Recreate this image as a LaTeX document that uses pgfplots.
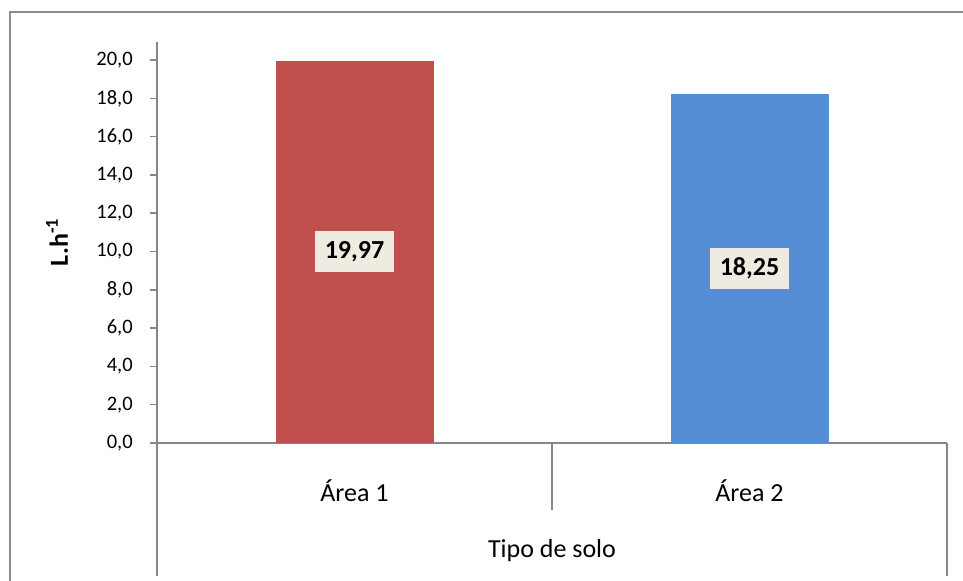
\documentclass[border=0pt]{standalone}
\usepackage{fontspec}
\setmainfont{Carlito}
\usepackage{pgfplots}
\pgfplotsset{compat=1.18}

\definecolor{barred}{HTML}{C0504D}
\definecolor{barblue}{HTML}{558ED5}
\definecolor{labelbox}{HTML}{EEECE1}
\definecolor{axisgray}{HTML}{868686}
\definecolor{framegray}{HTML}{8C8C8C}

\begin{document}
\begin{tikzpicture}
% page area and the chart frame
\useasboundingbox (0pt,0pt) rectangle (722.25pt,-435.75pt);
\begin{scope}
\clip (0pt,0pt) rectangle (722.25pt,-435.75pt);
\draw[framegray, line width=1.3pt] (7.5pt,-460pt) -- (7.5pt,-9pt) -- (740pt,-9pt);
\end{scope}

\begin{axis}[
  at={(117.75pt,-332.25pt)}, anchor=south west,
  scale only axis,
  width=592.5pt, height=300.75pt,
  xmin=-0.5, xmax=1.5,
  ymin=0, ymax=20.94,
  axis lines=left,
  axis line style={-, draw=axisgray, line width=1.1pt},
  clip=false,
  xtick={0,1},
  xticklabels={Área 1, Área 2},
  x tick style={draw=none},
  ytick={0,2,...,20},
  y tick style={draw=axisgray, line width=1.1pt},
  tick align=outside,
  major tick length=5.25pt,
  /pgf/number format/.cd, assume math mode=true, use comma, fixed, fixed zerofill, precision=1,
  /pgfplots/.cd,
  yticklabel style={anchor=east, inner sep=0pt, xshift=-12.75pt,
    font=\fontsize{15.4}{18}\selectfont},
  xticklabel style={anchor=base, yshift=-38.25pt,
    font=\fontsize{19.5}{23}\selectfont},
  xlabel={Tipo de solo},
  xlabel style={at={(axis description cs:0.5,0)}, anchor=base, yshift=-85.5pt,
    font=\fontsize{19.5}{23}\selectfont},
  ylabel={L.h\textsuperscript{-1}},
  ylabel style={at={(axis description cs:-0.1127,0.5)}, anchor=base,
    font=\fontsize{19.5}{23}\selectfont\bfseries},
  ybar, bar width=118.5pt,
  visualization depends on=y \as \rawy,
  nodes near coords={\pgfmathprintnumber[fixed, fixed zerofill, precision=2, use comma]{\pgfplotspointmeta}},
  every node near coord/.append style={
    anchor=center, fill=labelbox, text=black,
    inner xsep=7pt, inner ysep=0pt, minimum height=30.75pt,
    font=\fontsize{19.5}{23}\selectfont\bfseries,
    shift={(axis direction cs:0,-\rawy/2)}},
]
\addplot[fill=barred, draw=none, bar shift=0pt] coordinates {(0,19.97)};
\addplot[fill=barblue, draw=none, bar shift=0pt] coordinates {(1,18.25)};

% category boundaries of the horizontal axis
\draw[axisgray, line width=1.1pt] (axis cs:-0.5,0) -- ++(0pt,-99.75pt);
\draw[axisgray, line width=1.1pt] (axis cs:0.5,0) -- ++(0pt,-50.25pt);
\draw[axisgray, line width=1.1pt] (axis cs:1.5,0) -- ++(0pt,-99.75pt);
\end{axis}
\end{tikzpicture}
\end{document}
